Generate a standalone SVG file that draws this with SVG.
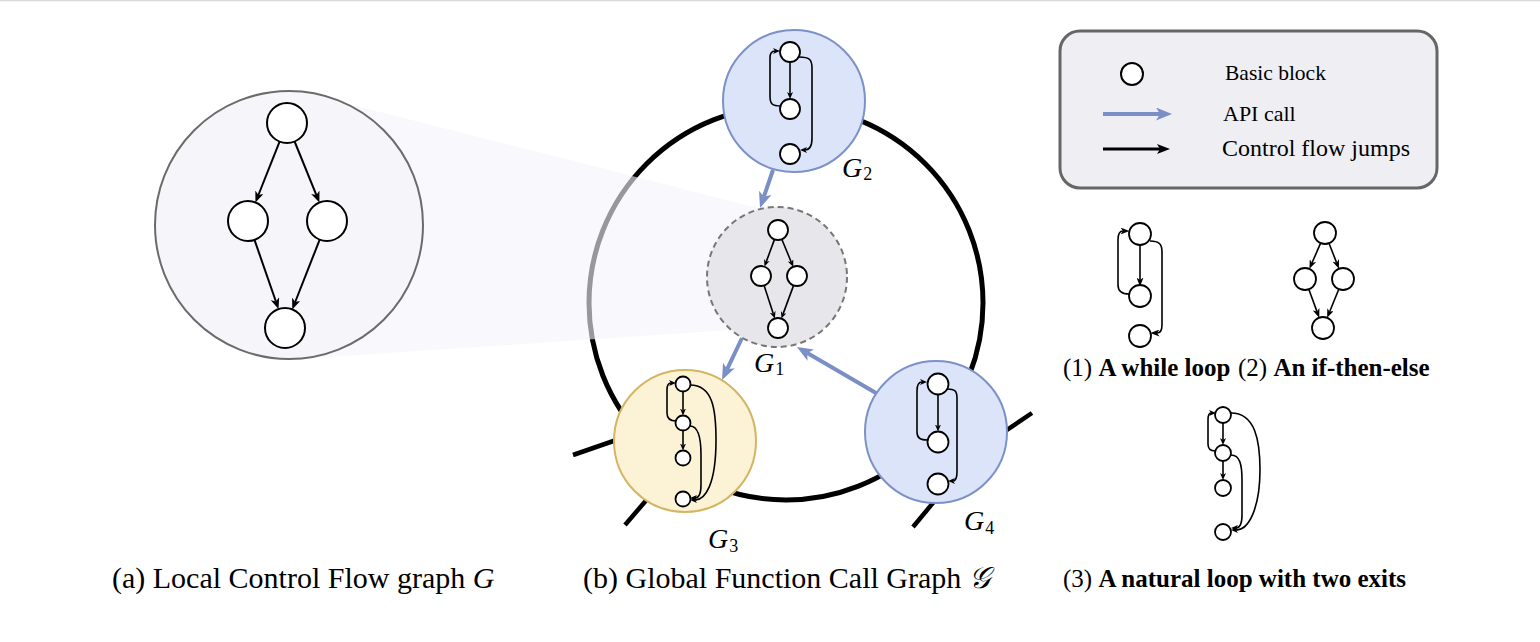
<svg xmlns="http://www.w3.org/2000/svg" width="1540" height="642" viewBox="0 0 1540 642">
<style>
.bb{fill:#fff;stroke:#000;stroke-width:2}
.bs{fill:#fff;stroke:#000;stroke-width:1.8}
.e2{fill:none;stroke:#000;stroke-width:2}
.e1{fill:none;stroke:#000;stroke-width:1.6}
.api{fill:none;stroke:#7b8fc7;stroke-width:4}
.ser{font-family:"Liberation Serif","Times New Roman",serif;fill:#000}
.gl{font-family:"Liberation Serif","Times New Roman",serif;font-style:italic;font-size:28px}
.sub{font-style:normal;font-size:18px}
</style>
<defs>
<marker id="ah" markerUnits="userSpaceOnUse" markerWidth="11" markerHeight="9" refX="3" refY="4.5" orient="auto"><path d="M0,0 L11,4.5 L0,9 L3,4.5 z" fill="#000"/></marker>
<marker id="am" markerUnits="userSpaceOnUse" markerWidth="9" markerHeight="7" refX="2.5" refY="3.5" orient="auto"><path d="M0,0 L9,3.5 L0,7 L2.5,3.5 z" fill="#000"/></marker>
<marker id="as" markerUnits="userSpaceOnUse" markerWidth="7" markerHeight="6" refX="2" refY="3" orient="auto"><path d="M0,0 L7,3 L0,6 L2,3 z" fill="#000"/></marker>
<marker id="ak" markerUnits="userSpaceOnUse" markerWidth="13" markerHeight="10" refX="3" refY="5" orient="auto"><path d="M0,0 L13,5 L0,10 L3,5 z" fill="#000"/></marker>
<marker id="ab" markerUnits="userSpaceOnUse" markerWidth="16" markerHeight="13" refX="4" refY="6.5" orient="auto"><path d="M0,0 L16,6.5 L0,13 L4,6.5 z" fill="#7b8fc7"/></marker>
</defs>
<rect width="1540" height="642" fill="#fff"/>
<line x1="0" y1="0.5" x2="1540" y2="0.5" stroke="#d9d9d9" stroke-width="1.5"/>

<g id="global-ring">
<circle cx="786" cy="303" r="197" fill="none" stroke="#000" stroke-width="5"/>
<line x1="573" y1="455" x2="625" y2="437" stroke="#000" stroke-width="4.5"/>
<line x1="625" y1="525" x2="655" y2="490" stroke="#000" stroke-width="4.5"/>
<line x1="995" y1="438" x2="1032" y2="413" stroke="#000" stroke-width="4.5"/>
<line x1="913" y1="527" x2="942" y2="492" stroke="#000" stroke-width="4.5"/>
</g>

<polygon id="zoom-cone" points="305,93 766,210 777,300 730,330 299,359" fill="rgb(244,244,252)" fill-opacity="0.62"/>

<g id="local-G">
<circle cx="289" cy="225" r="134" fill="#f5f5fa" stroke="#6b6b6b" stroke-width="2"/>
<circle class="bb" cx="287" cy="123" r="20"/>
<circle class="bb" cx="248" cy="221" r="20"/>
<circle class="bb" cx="327" cy="221" r="20"/>
<circle class="bb" cx="285" cy="328" r="20"/>
</g>

<g id="G2">
<circle cx="794" cy="101" r="71" fill="#dce4fa" stroke="#7d91c9" stroke-width="2"/>
<circle class="bs" cx="790" cy="52" r="10"/>
<circle class="bs" cx="790" cy="109" r="10"/>
<circle class="bs" cx="790" cy="154" r="10"/>
<text class="gl" x="842" y="177">G<tspan class="sub" dx="1" dy="3">2</tspan></text>
</g>

<g id="G1">
<circle cx="777" cy="277" r="70" fill="#e6e6eb" stroke="#777" stroke-width="2" stroke-dasharray="6 4"/>
<circle class="bs" cx="778" cy="230" r="10"/>
<circle class="bs" cx="761" cy="276" r="10"/>
<circle class="bs" cx="797" cy="276" r="10"/>
<circle class="bs" cx="778" cy="328" r="10"/>
<text class="gl" x="754" y="372">G<tspan class="sub" dx="1" dy="3">1</tspan></text>
</g>

<g id="G3">
<circle cx="685" cy="441" r="71" fill="#fcf2d6" stroke="#d3b562" stroke-width="2"/>
<circle class="bs" cx="683" cy="384" r="7.5"/>
<circle class="bs" cx="683" cy="423" r="7.5"/>
<circle class="bs" cx="683" cy="458" r="7.5"/>
<circle class="bs" cx="683" cy="499" r="7.5"/>
<text class="gl" x="708" y="548">G<tspan class="sub" dx="1" dy="4">3</tspan></text>
</g>

<g id="G4">
<circle cx="936" cy="432" r="71" fill="#dce4fa" stroke="#7d91c9" stroke-width="2"/>
<circle class="bs" cx="938" cy="384" r="10.5"/>
<circle class="bs" cx="938" cy="442" r="10.5"/>
<circle class="bs" cx="938" cy="484" r="10.5"/>
<text class="gl" x="964" y="530">G<tspan class="sub" dx="1" dy="4">4</tspan></text>
</g>

<g id="legend">
<rect x="1060" y="31" width="377" height="157" rx="20" fill="#efeff3" stroke="#666" stroke-width="3"/>
<circle class="bb" cx="1132" cy="74" r="11"/>
<text class="ser" x="1225" y="80" font-size="21.5">Basic block</text>
<line x1="1103" y1="114" x2="1160" y2="114" class="api" marker-end="url(#ab)"/>
<text class="ser" x="1223" y="121" font-size="22">API call</text>
<line x1="1103" y1="149" x2="1160" y2="149" stroke="#000" stroke-width="3" marker-end="url(#ak)"/>
<text class="ser" x="1222" y="156" font-size="24">Control flow jumps</text>
</g>

<g id="ex-while">
<circle class="bs" cx="1140" cy="234" r="11"/>
<circle class="bs" cx="1140" cy="296" r="11"/>
<circle class="bs" cx="1140" cy="336" r="11"/>
</g>
<g id="ex-ifthenelse">
<circle class="bs" cx="1325" cy="233" r="11"/>
<circle class="bs" cx="1305" cy="279" r="11"/>
<circle class="bs" cx="1343" cy="279" r="11"/>
<circle class="bs" cx="1323" cy="328" r="11"/>
</g>
<g id="ex-natural">
<circle class="bs" cx="1223" cy="415" r="8"/>
<circle class="bs" cx="1223" cy="453" r="8"/>
<circle class="bs" cx="1223" cy="488" r="8"/>
<circle class="bs" cx="1223" cy="532" r="8"/>
</g>

<g id="connectors">
<line class="e2" x1="279.6" y1="141.6" x2="258.4" y2="195" marker-end="url(#ah)"/>
<line class="e2" x1="294.6" y1="141.5" x2="316.4" y2="195.1" marker-end="url(#ah)"/>
<line class="e2" x1="254.5" y1="239.9" x2="275.9" y2="301.5" marker-end="url(#ah)"/>
<line class="e2" x1="319.7" y1="239.6" x2="295.2" y2="302" marker-end="url(#ah)"/>
<line class="e1" x1="774.5" y1="239.4" x2="766.2" y2="261.9" marker-end="url(#as)"/>
<line class="e1" x1="781.8" y1="239.2" x2="791.3" y2="262.2" marker-end="url(#as)"/>
<line class="e1" x1="764.1" y1="285.5" x2="773.3" y2="313.7" marker-end="url(#as)"/>
<line class="e1" x1="793.6" y1="285.4" x2="783.1" y2="313.9" marker-end="url(#as)"/>
<line class="e1" x1="790" y1="62" x2="790" y2="94" marker-end="url(#as)"/>
<path class="e1" d="M781,106 C772,106 770,104 770,96 L770,58 C770,53 772,51 775,51" marker-end="url(#as)"/>
<path class="e1" d="M799,57 C810,57 812,60 812,68 L812,138 C812,146 810,150 805,150" marker-end="url(#as)"/>
<line class="e1" x1="683" y1="391.5" x2="683" y2="410.5" marker-end="url(#as)"/>
<line class="e1" x1="683" y1="430.5" x2="683" y2="445.5" marker-end="url(#as)"/>
<path class="e1" d="M676,421 C670,421 667,419 667,413 L667,390 C667,385 668,383 671,383" marker-end="url(#as)"/>
<path class="e1" d="M690,385 C713,385 716,410 716,440 C716,485 705,500 695,500" marker-end="url(#as)"/>
<path class="e1" d="M690,426 C699,426 701,440 701,455 L701,485 C701,494 699,498 695,498" marker-end="url(#as)"/>
<line class="e1" x1="938" y1="394.5" x2="938" y2="426.5" marker-end="url(#as)"/>
<path class="e1" d="M928,440 C920,440 917,438 917,432 L917,391 C917,385 919,382 922,382" marker-end="url(#as)"/>
<path class="e1" d="M947,389 C955,389 957,391 957,398 L957,472 C957,478 955,481 953,481" marker-end="url(#as)"/>
<line class="api" x1="773" y1="170" x2="763.9" y2="196.7" marker-end="url(#ab)"/>
<line class="api" x1="742" y1="338" x2="727.2" y2="369.2" marker-end="url(#ab)"/>
<line class="api" x1="876" y1="393" x2="807.3" y2="353.1" marker-end="url(#ab)"/>
<line class="e1" x1="1140" y1="245" x2="1140" y2="280" marker-end="url(#am)"/>
<path class="e1" d="M1129,294 C1121,294 1118,291 1118,285 L1118,240 C1118,234 1120,231 1123,231" marker-end="url(#am)"/>
<path class="e1" d="M1150,241 C1159,241 1162,244 1162,252 L1162,325 C1162,331 1160,333 1157,333" marker-end="url(#am)"/>
<line class="e1" x1="1320.6" y1="243.1" x2="1312" y2="262.9" marker-end="url(#am)"/>
<line class="e1" x1="1329" y1="243.2" x2="1336.6" y2="262.7" marker-end="url(#am)"/>
<line class="e1" x1="1308.8" y1="289.3" x2="1317" y2="311.6" marker-end="url(#am)"/>
<line class="e1" x1="1338.8" y1="289.2" x2="1329.6" y2="311.8" marker-end="url(#am)"/>
<line class="e1" x1="1223" y1="423" x2="1223" y2="440" marker-end="url(#as)"/>
<line class="e1" x1="1223" y1="461" x2="1223" y2="475" marker-end="url(#as)"/>
<path class="e1" d="M1215,451 C1210,451 1208,449 1208,444 L1208,420 C1208,415 1209,413 1211,413" marker-end="url(#as)"/>
<path class="e1" d="M1231,413 C1255,413 1260,440 1260,470 C1260,505 1250,530 1236,530" marker-end="url(#as)"/>
<path class="e1" d="M1231,455 C1240,455 1242,465 1242,480 L1242,515 C1242,524 1240,528 1236,528" marker-end="url(#as)"/>
</g>

<g id="captions">
<text class="ser" x="1063" y="376" font-size="25">(1) <tspan font-weight="bold">A while loop</tspan></text>
<text class="ser" x="1238" y="376" font-size="25">(2) <tspan font-weight="bold">An if-then-else</tspan></text>
<text class="ser" x="1063" y="587" font-size="25">(3) <tspan font-weight="bold">A natural loop with two exits</tspan></text>
<text class="ser" x="112" y="588" font-size="30">(a) Local Control Flow graph <tspan font-style="italic">G</tspan></text>
<text class="ser" x="583" y="588" font-size="30">(b) Global Function Call Graph <tspan font-family="'DejaVu Serif','DejaVu Sans',serif" font-style="italic">𝒢</tspan></text>
</g>
</svg>
